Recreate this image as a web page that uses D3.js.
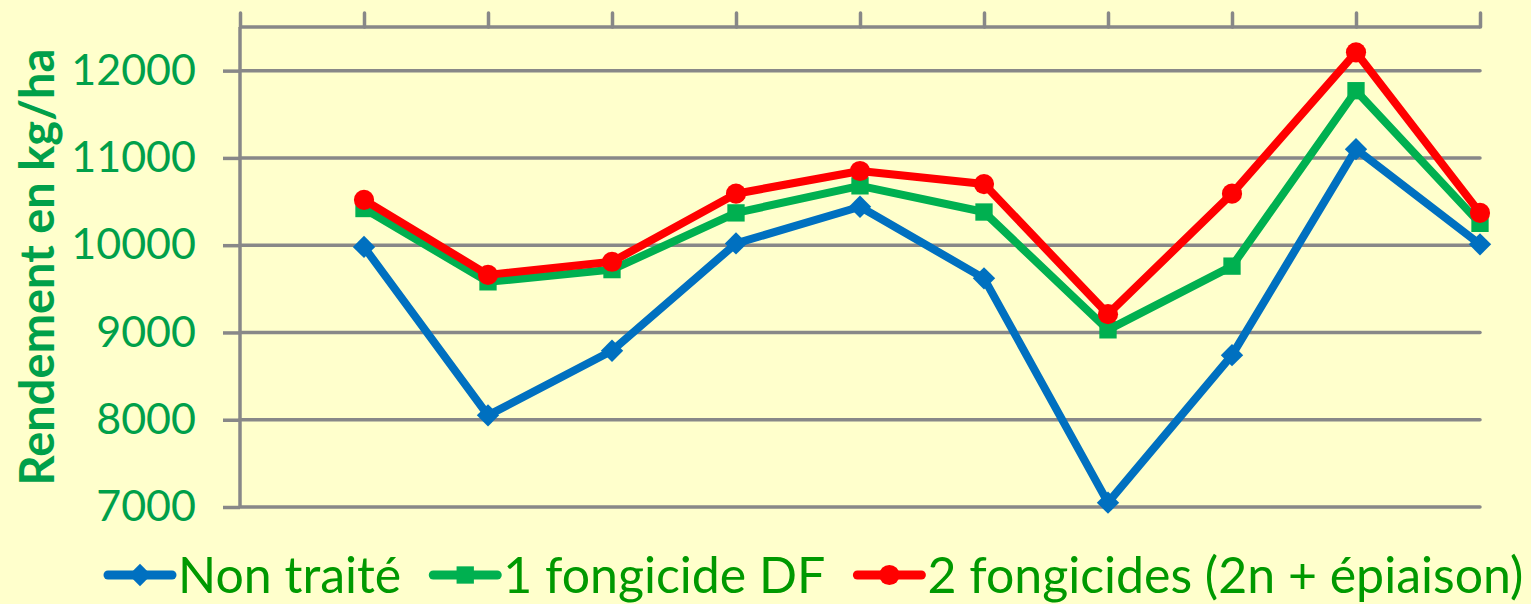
<!DOCTYPE html>
<html>
<head>
<meta charset="utf-8">
<script src="https://cdn.jsdelivr.net/npm/d3@7"></script>
<style>
  body { margin: 0; background: #FFFFCC; }
  svg { display: block; font-family: Lato, "Open Sans", sans-serif; }
</style>
</head>
<body>
<div class="chart"></div>
<script>
// data (10 sites, first slot of the axis is empty)
var sites = [1, 2, 3, 4, 5, 6, 7, 8, 9, 10];
var nonTraite = [9980, 8050, 8790, 10020, 10440, 9620, 7050, 8740, 11100, 10010];
var unFongicide = [10420, 9580, 9720, 10370, 10680, 10380, 9030, 9760, 11770, 10250];
var deuxFongicides = [10520, 9660, 9810, 10590, 10850, 10700, 9210, 10590, 12210, 10370];
var yTicks = [7000, 8000, 9000, 10000, 11000, 12000];
var seriesNames = ["Non traité", "1 fongicide DF", "2 fongicides (2n + épiaison)"];

var svgWidth = 1531;
var svgHeight = 604;
var margin = { top: 27, right: 51, bottom: 97, left: 240 };
var width = svgWidth - margin.left - margin.right;
var height = svgHeight - margin.top - margin.bottom;

var svg = d3.select(".chart")
    .append("svg")
    .attr("width", svgWidth)
    .attr("height", svgHeight);

svg.append("rect")
    .attr("width", svgWidth)
    .attr("height", svgHeight)
    .attr("fill", "#FFFFCC");

var chartGroup = svg.append("g")
    .attr("transform", `translate(${margin.left}, ${margin.top})`);

// scales
var x = d3.scaleLinear().domain([0, sites.length]).range([0, width]);
var y = d3.scaleLinear().domain([7000, 12500]).range([height, 0]);

// gridlines
chartGroup.selectAll(".grid")
    .data(yTicks)
    .enter()
    .append("line")
    .attr("x1", 0)
    .attr("x2", width)
    .attr("y1", d => y(d))
    .attr("y2", d => y(d))
    .attr("stroke", "#888888")
    .attr("stroke-width", 3.5)
    .attr("stroke-linecap", "round");

// left axis
var yAxis = d3.axisLeft(y)
    .tickValues(yTicks)
    .tickSize(17)
    .tickPadding(27)
    .tickFormat(d3.format("d"));

var yG = chartGroup.append("g").call(yAxis);
yG.select(".domain")
    .attr("stroke", "#888888")
    .attr("stroke-width", 3.5)
    .attr("d", `M0,${height}V0`);
yG.selectAll(".tick line").attr("stroke", "#888888").attr("stroke-width", 3.5);
yG.selectAll(".tick text")
    .attr("fill", "#00A04A")
    .style("font-size", "43px")
    .style("font-family", "Lato, sans-serif");

// top category axis, no labels
var xAxis = d3.axisTop(x)
    .tickValues(d3.range(0, sites.length + 1))
    .tickSize(14)
    .tickFormat("");

var xG = chartGroup.append("g").call(xAxis);
xG.select(".domain")
    .attr("stroke", "#888888")
    .attr("stroke-width", 3.5)
    .attr("d", `M0,0H${width}`);
xG.selectAll(".tick line")
    .attr("stroke", "#888888")
    .attr("stroke-width", 3.5)
    .attr("stroke-linecap", "round");

// axis title
svg.append("text")
    .attr("transform", `translate(54, ${margin.top + height / 2}) rotate(-90)`)
    .attr("text-anchor", "middle")
    .attr("fill", "#00A04A")
    .style("font-size", "47px")
    .style("font-weight", "bold")
    .text("Rendement en kg/ha");

// series (diamond = square turned 45 degrees)
var series = [
    { name: seriesNames[0], values: nonTraite, color: "#0070C0", symbol: d3.symbolSquare, size: 250, rot: 45 },
    { name: seriesNames[1], values: unFongicide, color: "#00B050", symbol: d3.symbolSquare, size: 300, rot: 0 },
    { name: seriesNames[2], values: deuxFongicides, color: "#FF0000", symbol: d3.symbolCircle, size: 320, rot: 0 }
];

var line = d3.line()
    .x((d, i) => x(sites[i]))
    .y(d => y(d));

series.forEach(function(s) {
    chartGroup.append("path")
        .datum(s.values)
        .attr("fill", "none")
        .attr("stroke", s.color)
        .attr("stroke-width", 8)
        .attr("stroke-linejoin", "round")
        .attr("d", line);

    chartGroup.selectAll(null)
        .data(s.values)
        .enter()
        .append("path")
        .attr("transform", (d, i) => `translate(${x(sites[i])}, ${y(d)}) rotate(${s.rot})`)
        .attr("d", d3.symbol().type(s.symbol).size(s.size))
        .attr("fill", s.color);
});

// legend, laid out left to right
var legend = svg.append("g").attr("transform", "translate(108, 575)");
var lx = 0;
series.forEach(function(s) {
    legend.append("line")
        .attr("x1", lx)
        .attr("x2", lx + 64)
        .attr("stroke", s.color)
        .attr("stroke-width", 9)
        .attr("stroke-linecap", "round");
    legend.append("path")
        .attr("transform", `translate(${lx + 32}, 0) rotate(${s.rot})`)
        .attr("d", d3.symbol().type(s.symbol).size(s.size))
        .attr("fill", s.color);
    var t = legend.append("text")
        .attr("x", lx + 70)
        .attr("y", 18)
        .attr("fill", "#009900")
        .style("font-size", "50px")
        .text(s.name);
    lx += 70 + t.node().getComputedTextLength() + 32;
});
</script>
</body>
</html>
